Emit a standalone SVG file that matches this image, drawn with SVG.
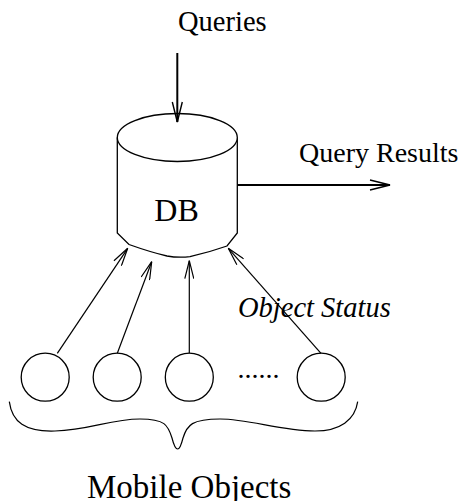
<svg xmlns="http://www.w3.org/2000/svg" width="462" height="501" viewBox="0 0 462 501">
  <style>
    text { font-family: "Liberation Serif", "Times New Roman", serif; fill: #000; }
    .shape { fill: #fff; stroke: #000; stroke-width: 1.3; }
    .thin { fill: none; stroke: #000; stroke-width: 1.2; }
    .thick { fill: none; stroke: #000; stroke-width: 2; }
  </style>
  <defs>
    <marker id="openThin" viewBox="0 0 20 10" refX="19" refY="5" markerWidth="20" markerHeight="10" markerUnits="userSpaceOnUse" orient="auto">
      <path d="M1,0.5 L19,5 L1,9.5" fill="none" stroke="#000" stroke-width="1.2"/>
    </marker>
    <marker id="openThick" viewBox="0 0 22 12" refX="21" refY="6" markerWidth="22" markerHeight="12" markerUnits="userSpaceOnUse" orient="auto">
      <path d="M1,1 L21,6 L1,11" fill="none" stroke="#000" stroke-width="1.4"/>
    </marker>
  </defs>

  <!-- database cylinder -->
  <g id="db">
    <path class="shape" d="M117.3,137.5 L117.3,233 L129,244.5 Q150,252 167,256 Q178,258 190,256.7 Q210,252 227,246 L237.3,233 L237.3,137.5"/>
    <ellipse class="shape" cx="177.3" cy="137.5" rx="60" ry="24"/>
    <text x="176.5" y="220.5" font-size="32" text-anchor="middle">DB</text>
  </g>

  <!-- mobile objects -->
  <g id="obj1"><circle class="shape" cx="45.2" cy="377.2" r="24"/></g>
  <g id="obj2"><circle class="shape" cx="117.2" cy="377.2" r="24"/></g>
  <g id="obj3"><circle class="shape" cx="189.3" cy="377.2" r="24"/></g>
  <g id="obj4"><circle class="shape" cx="321.2" cy="377.2" r="24"/></g>
  <g id="ellipsis"><text x="237.5" y="378" font-size="28">......</text></g>

  <!-- grouping brace -->
  <g id="brace">
    <path class="thin" d="M9.3,401.7 C12,422 25,432 55,431 C90,430 110,419 140,419 C165,419 168,425 172,438 C174,446 176,449 177.7,449 C179.5,449 181,446 183,438 C187,425 192,419 220,419 C250,419 280,431 315,431 C340,431 355,420 357.7,401.7"/>
  </g>

  <!-- labels -->
  <g id="labels">
    <text x="178" y="31" font-size="28.5">Queries</text>
    <text x="299" y="162" font-size="28">Query Results</text>
    <text x="238" y="317" font-size="28.5" font-style="italic">Object Status</text>
    <text x="87" y="498" font-size="33">Mobile Objects</text>
  </g>

  <!-- connectors -->
  <g id="connectors">
    <line class="thick" x1="177.3" y1="53" x2="177.3" y2="122" marker-end="url(#openThick)"/>
    <line class="thick" x1="237.3" y1="185" x2="390" y2="185" marker-end="url(#openThick)"/>
    <line class="thin" x1="57.3" y1="353.3" x2="127.7" y2="248.3" marker-end="url(#openThin)"/>
    <line class="thin" x1="117.3" y1="353.3" x2="151.7" y2="261.7" marker-end="url(#openThin)"/>
    <line class="thin" x1="189.3" y1="353.3" x2="189.3" y2="260.7" marker-end="url(#openThin)"/>
    <line class="thin" x1="321" y1="353.3" x2="228.3" y2="248.3" marker-end="url(#openThin)"/>
  </g>
</svg>
